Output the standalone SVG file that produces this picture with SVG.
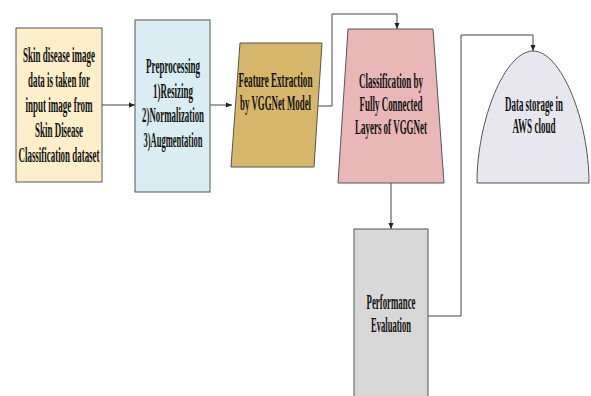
<svg xmlns="http://www.w3.org/2000/svg" width="591" height="396" viewBox="0 0 591 396">
<style>
.n{stroke:#555;stroke-width:1}
.t{font-family:"Liberation Serif","Times New Roman",serif;font-size:21px;font-weight:bold;fill:#111;text-anchor:middle}
.c{fill:none;stroke:#444;stroke-width:1}
</style>
<defs>
<marker id="a" viewBox="0 0 6 6" refX="6" refY="3" markerWidth="6" markerHeight="6" orient="auto" markerUnits="userSpaceOnUse">
<path d="M0,0.5 L6,3 L0,5.5 Z" fill="#222"/>
</marker>
</defs>
<rect width="591" height="396" fill="#fff"/>
<g id="connectors">
<path class="c" d="M102,105 H135" marker-end="url(#a)"/>
<path class="c" d="M210,105 H232" marker-end="url(#a)"/>
<path class="c" d="M318,106 H332 V14 H397 V29" marker-end="url(#a)"/>
<path class="c" d="M391,183 V229" marker-end="url(#a)"/>
<path class="c" d="M428,316 H461 V35 H533 V51" marker-end="url(#a)"/>
</g>
<g id="input">
<rect class="n" x="16" y="28" width="86" height="154" fill="#fdefc9"/>
<g transform="translate(59,0) scale(0.5,1)">
<text class="t" x="0" y="62" textLength="144" lengthAdjust="spacingAndGlyphs">Skin disease image</text>
<text class="t" x="0" y="87" textLength="124" lengthAdjust="spacingAndGlyphs">data is taken for</text>
<text class="t" x="0" y="112" textLength="134" lengthAdjust="spacingAndGlyphs">input image from</text>
<text class="t" x="0" y="137" textLength="96" lengthAdjust="spacingAndGlyphs">Skin Disease</text>
<text class="t" x="0" y="162" textLength="162" lengthAdjust="spacingAndGlyphs">Classification dataset</text>
</g>
</g>
<g id="preprocessing">
<rect class="n" x="135" y="20" width="75" height="172" fill="#daedf2"/>
<g transform="translate(173,0) scale(0.5,1)">
<text class="t" x="0" y="73" textLength="108" lengthAdjust="spacingAndGlyphs">Preprocessing</text>
<text class="t" x="0" y="98" textLength="80" lengthAdjust="spacingAndGlyphs">1)Resizing</text>
<text class="t" x="0" y="122" textLength="124" lengthAdjust="spacingAndGlyphs">2)Normalization</text>
<text class="t" x="0" y="147" textLength="118" lengthAdjust="spacingAndGlyphs">3)Augmentation</text>
</g>
</g>
<g id="feature">
<polygon class="n" points="240,43 322,43 314,167 231,167" fill="#d6b66a"/>
<g transform="translate(275.5,0) scale(0.5,1)">
<text class="t" x="0" y="87" textLength="148" lengthAdjust="spacingAndGlyphs">Feature Extraction</text>
<text class="t" x="0" y="110" textLength="142" lengthAdjust="spacingAndGlyphs">by VGGNet Model</text>
</g>
</g>
<g id="classification">
<polygon class="n" points="348,29 433,29 444,183 338,183" fill="#e9b7b7"/>
<g transform="translate(391,0) scale(0.5,1)">
<text class="t" x="0" y="88" textLength="128" lengthAdjust="spacingAndGlyphs">Classification by</text>
<text class="t" x="0" y="111" textLength="126" lengthAdjust="spacingAndGlyphs">Fully Connected</text>
<text class="t" x="0" y="134" textLength="144" lengthAdjust="spacingAndGlyphs">Layers of VGGNet</text>
</g>
</g>
<g id="performance">
<rect class="n" x="354" y="229" width="74" height="170" fill="#d8d8d8"/>
<g transform="translate(391,0) scale(0.5,1)">
<text class="t" x="0" y="309" textLength="98" lengthAdjust="spacingAndGlyphs">Performance</text>
<text class="t" x="0" y="332" textLength="80" lengthAdjust="spacingAndGlyphs">Evaluation</text>
</g>
</g>
<g id="storage">
<path class="n" d="M477,183 C477,120 505,51 533,51 C561,51 589,120 589,183 Z" fill="#e8e6ee"/>
<g transform="translate(534,0) scale(0.5,1)">
<text class="t" x="0" y="111" textLength="116" lengthAdjust="spacingAndGlyphs">Data storage in</text>
<text class="t" x="0" y="133" textLength="86" lengthAdjust="spacingAndGlyphs">AWS cloud</text>
</g>
</g>
</svg>
